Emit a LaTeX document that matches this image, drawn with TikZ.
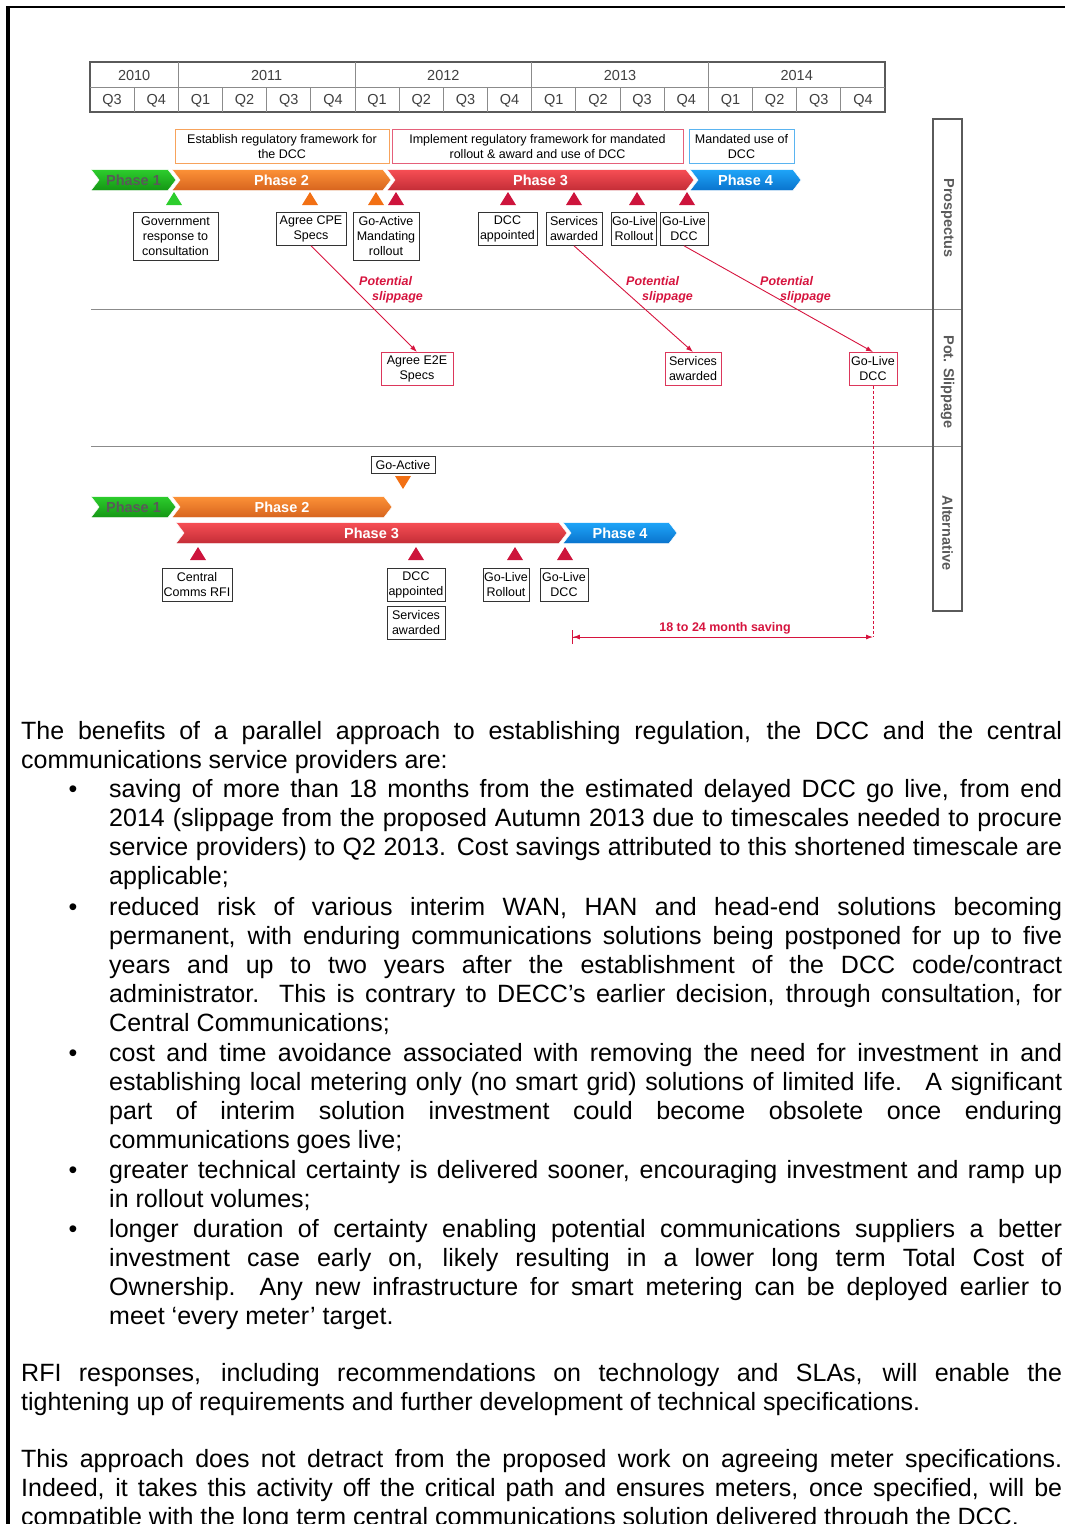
\documentclass[tikz,border=0pt]{standalone}
\usepackage{fontspec}
\setmainfont{Liberation Sans}
\usetikzlibrary{shapes.symbols,arrows.meta}

\definecolor{crim}{RGB}{214,20,62}
\definecolor{hdr}{RGB}{90,90,90}
\definecolor{ph1t}{RGB}{45,205,45}
\definecolor{ph1b}{RGB}{20,150,20}
\definecolor{ph2t}{RGB}{252,145,55}
\definecolor{ph2b}{RGB}{215,100,30}
\definecolor{ph3t}{RGB}{247,78,84}
\definecolor{ph3b}{RGB}{195,45,55}
\definecolor{ph4t}{RGB}{30,165,248}
\definecolor{ph4b}{RGB}{10,115,205}
\definecolor{trired}{RGB}{205,20,60}
\definecolor{triorange}{RGB}{242,112,20}
\definecolor{trigreen}{RGB}{45,205,45}
\definecolor{orbox}{RGB}{247,163,92}
\definecolor{rdbox}{RGB}{229,96,122}
\definecolor{blbox}{RGB}{90,180,240}

\def\qw{44.17}
\def\qx{90}

% one phase chevron: [text colour]{name}{x from}{x to}{phase}{y}
\newcommand{\phase}[6][white]{
    \node[phasebar, top color=ph#5t, bottom color=ph#5b, text=#1,
          minimum width={(#4-#3)*1pt}] (#2) at ({(#3+#4)/2},#6) {Phase #5};
}
% milestone triangle: {x}{y top}{colour}
\newcommand{\mtri}[3]{
    \fill[#3] (#1-8,#2+13) -- (#1,#2) -- (#1+8,#2+13) -- cycle;
}
% justified line and text block
\newcommand{\jl}[1]{\hbox to \hsize{#1}}
\newcommand{\txtblock}[2]{\vtop{\hsize=#1pt\relax #2}}

\tikzset{
    hcell/.style={font=\fontsize{14.5}{16}\selectfont, text=black!75, inner sep=0pt},
    phasebar/.style={signal, signal from=west, signal to=east, signal pointer angle=105,
        minimum height=21pt, inner sep=0pt, draw=white, line width=0.5pt,
        font=\bfseries\fontsize{14.5}{16}\selectfont},
    msbox/.style={draw=black!80, line width=0.8pt, fill=white, align=center, inner sep=0.5pt,
        font=\fontsize{12.5}{15}\selectfont, anchor=north},
    twoline/.style={minimum height=33pt},
    threeline/.style={minimum height=48pt},
    slipbox/.style={msbox, twoline, draw=crim!85},
    topbox/.style={msbox, minimum height=34pt},
    sliparrow/.style={draw=crim, line width=0.9pt, -{Latex[length=7pt,width=5pt]}},
    sliplbl/.style={text=crim, font=\bfseries\itshape\fontsize{12.5}{15}\selectfont,
        align=left, inner sep=0pt, anchor=west},
    sidelbl/.style={rotate=-90, text=hdr, font=\bfseries\fontsize{14.5}{16}\selectfont},
    body/.style={font=\fontsize{25}{29}\selectfont, inner sep=0pt, anchor=base west},
}

\begin{document}
\begin{tikzpicture}[x=1pt,y=-1pt]
\useasboundingbox (0,0) rectangle (1065,1524);
% page frame
\draw[line width=2pt] (6,7) -- (1065,7);
\draw[line width=4pt] (8,6) -- (8,1524);

% years and quarters
\draw[hdr, line width=2.5pt] (\qx,62) rectangle (885,112);
\draw[hdr!70, line width=1pt] (\qx,87) -- (885,87);
\foreach \i in {1,...,17}
    \draw[hdr!70, line width=1pt] ({\qx+\i*\qw},87) -- ({\qx+\i*\qw},112);
\foreach \i in {2,6,10,14}
    \draw[hdr!70, line width=1pt] ({\qx+\i*\qw},62) -- ({\qx+\i*\qw},87);
\foreach \q [count=\i from 0] in {Q3,Q4,Q1,Q2,Q3,Q4,Q1,Q2,Q3,Q4,Q1,Q2,Q3,Q4,Q1,Q2,Q3,Q4}
    \node[hcell] (q\i) at ({\qx+(\i+0.5)*\qw},101) {\q};
\foreach \yr/\a/\b in {2010/0/2,2011/2/6,2012/6/10,2013/10/14,2014/14/18}
    \node[hcell] (y\yr) at ({\qx+(\a+\b)/2*\qw},76) {\yr};

% prospectus
\node[topbox, draw=orbox, minimum width=214pt] (est) at (282,129)
    {Establish regulatory framework for\\the DCC};
\node[topbox, draw=rdbox, minimum width=291pt] (imp) at (537.5,129)
    {Implement regulatory framework for mandated\\rollout \& award and use of DCC};
\node[topbox, draw=blbox, minimum width=105pt] (mand) at (741.5,129)
    {Mandated use of\\DCC};
\phase[black!65]{pA1}{91}{176}{1}{180}
\phase{pA2}{172}{391}{2}{180}
\phase{pA3}{387}{694}{3}{180}
\phase{pA4}{690}{801}{4}{180}
\mtri{174}{192}{trigreen}
\mtri{310}{192}{triorange}
\mtri{376}{192}{triorange}
\foreach \x in {396,508,574,637,687} {\mtri{\x}{192}{trired}}
\node[msbox, threeline, minimum width=85pt] (gov) at (175.5,212) {Government\\response to\\consultation};
\node[msbox, twoline, minimum width=70pt] (cpe) at (311,212) {Agree CPE\\Specs};
\node[msbox, threeline, minimum width=66pt] (goact) at (386,212) {Go-Active\\Mandating\\rollout};
\node[msbox, twoline, minimum width=59pt] (dcc) at (507.5,212) {DCC\\appointed};
\node[msbox, twoline, minimum width=56pt] (svc) at (574,212) {Services\\awarded};
\node[msbox, twoline, minimum width=44pt] (glr) at (634,212) {Go-Live\\Rollout};
\node[msbox, twoline, minimum width=48pt] (gld) at (684,212) {Go-Live\\DCC};

% potential slippage
\draw[hdr!70, line width=1pt] (91,309) -- (962,309);
\draw[hdr!70, line width=1pt] (91,446) -- (962,446);
\node[slipbox, minimum width=72pt] (e2e) at (417,352) {Agree E2E\\Specs};
\node[slipbox, minimum width=56pt] (ssvc) at (693,352) {Services\\awarded};
\node[slipbox, minimum width=48pt] (sgld) at (873,352) {Go-Live\\DCC};
\draw[sliparrow] (cpe.south) -- (e2e.north);
\draw[sliparrow] (svc.south) -- (ssvc.north);
\draw[sliparrow] (gld.south) -- (sgld.north);
\node[sliplbl] (l1) at (359,290) {Potential\\\hspace{13pt}slippage};
\node[sliplbl] (l2) at (626,290) {Potential\\\hspace{16pt}slippage};
\node[sliplbl] (l3) at (760,290) {Potential\\\hspace{20pt}slippage};

% alternative
\node[msbox, minimum width=64pt, minimum height=17pt] (goact2) at (403,456) {Go-Active};
\fill[triorange] (395,476) -- (411,476) -- (403,489) -- cycle;
\phase[black!65]{pB1}{91}{176}{1}{507}
\phase{pB2}{172}{392}{2}{507}
\phase{pB3}{176}{567}{3}{533}
\phase{pB4}{563}{677}{4}{533}
\foreach \x in {198,416,515,565} {\mtri{\x}{547}{trired}}
\node[msbox, twoline, minimum width=70pt] (rfi) at (197,568) {Central\\Comms RFI};
\node[msbox, twoline, minimum width=58pt] (adcc) at (416,568) {DCC\\appointed};
\node[msbox, twoline, minimum width=58pt] (asvc) at (416,606) {Services\\awarded};
\node[msbox, twoline, minimum width=46pt] (aglr) at (506,568) {Go-Live\\Rollout};
\node[msbox, twoline, minimum width=48pt] (agld) at (564,568) {Go-Live\\DCC};
\coordinate (savL) at (572,637);
\coordinate (savR) at (873,637);
\draw[crim, line width=0.8pt, dash pattern=on 3pt off 2pt] (sgld.south) -- (savR);
\draw[crim, line width=0.9pt, {Bar[width=14pt]Latex[length=7pt,width=5pt]}-{Latex[length=7pt,width=5pt]}]
    (savL) -- (savR);
\node[text=crim, font=\bfseries\fontsize{12.5}{15}\selectfont] (sav) at (725,628) {18 to 24 month saving};

% side labels
\draw[hdr, line width=2.5pt] (933,119) rectangle (962,611);
\node[sidelbl] (lpro) at (947.5,218) {Prospectus};
\node[sidelbl] (lpot) at (947.5,382) {Pot. Slippage};
\node[sidelbl] (lalt) at (947.5,533) {Alternative};

% text below
\node[body] (p1) at (21,739) {\txtblock{1041}{%
    \jl{The benefits of a parallel approach to establishing regulation, the DCC and the central}
    \hbox{communications service providers are:}}};
\foreach \y [count=\i] in {797,915,1061,1178,1237}
    \node[body, anchor=base] (d\i) at (73,\y) {•};
\node[body] (b1) at (109,797) {\txtblock{953}{%
    \jl{saving of more than 18 months from the estimated delayed DCC go live, from end}
    \jl{2014 (slippage from the proposed Autumn 2013 due to timescales needed to procure}
    \jl{service providers) to Q2 2013. Cost savings attributed to this shortened timescale are}
    \hbox{applicable;}}};
\node[body] (b2) at (109,915) {\txtblock{953}{%
    \jl{reduced risk of various interim WAN, HAN and head-end solutions becoming}
    \jl{permanent, with enduring communications solutions being postponed for up to five}
    \jl{years and up to two years after the establishment of the DCC code/contract}
    \jl{administrator. This is contrary to DECC’s earlier decision, through consultation, for}
    \hbox{Central Communications;}}};
\node[body] (b3) at (109,1061) {\txtblock{953}{%
    \jl{cost and time avoidance associated with removing the need for investment in and}
    \jl{establishing local metering only (no smart grid) solutions of limited life. \ A significant}
    \jl{part of interim solution investment could become obsolete once enduring}
    \hbox{communications goes live;}}};
\node[body] (b4) at (109,1178) {\txtblock{953}{%
    \jl{greater technical certainty is delivered sooner, encouraging investment and ramp up}
    \hbox{in rollout volumes;}}};
\node[body] (b5) at (109,1237) {\txtblock{953}{%
    \jl{longer duration of certainty enabling potential communications suppliers a better}
    \jl{investment case early on, likely resulting in a lower long term Total Cost of}
    \jl{Ownership. Any new infrastructure for smart metering can be deployed earlier to}
    \hbox{meet ‘every meter’ target.}}};
\node[body] (p2) at (21,1381) {\txtblock{1041}{%
    \jl{RFI responses, including recommendations on technology and SLAs, will enable the}
    \hbox{tightening up of requirements and further development of technical specifications.}}};
\node[body] (p3) at (21,1467) {\txtblock{1041}{%
    \jl{This approach does not detract from the proposed work on agreeing meter specifications.}
    \jl{Indeed, it takes this activity off the critical path and ensures meters, once specified, will be}
    \hbox{compatible with the long term central communications solution delivered through the DCC.}}};
\end{tikzpicture}
\end{document}
